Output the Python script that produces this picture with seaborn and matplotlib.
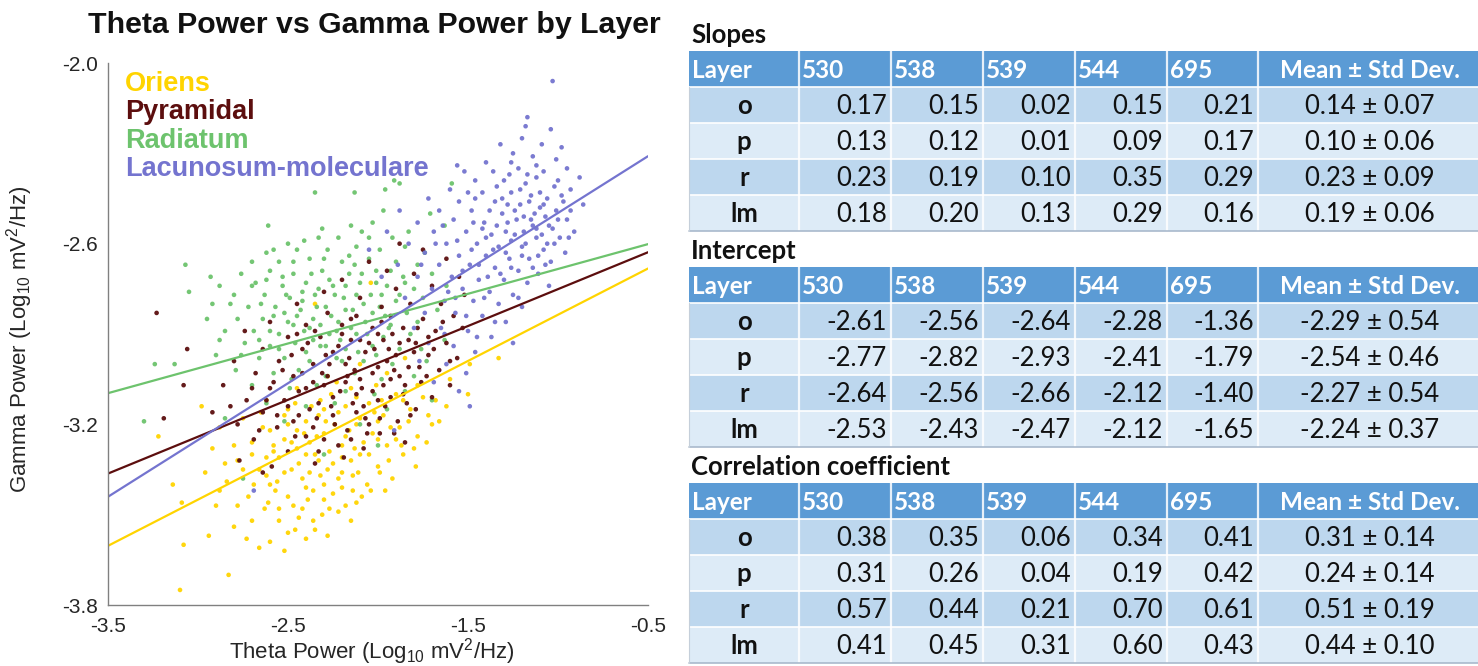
import matplotlib
matplotlib.use("Agg")
import matplotlib.pyplot as plt
from matplotlib.patches import Rectangle
import pandas as pd
import seaborn as sns

# ---------------- scatter: log10 theta power vs log10 gamma power ----------------
oriens_pts = [
    (-1.33, -2.98), (-1.49, -3.00), (-1.50, -3.10), (-1.66, -3.19), (-1.73, -3.26), (-1.79, -3.34),
    (-2.04, -2.73), (-2.35, -2.80), (-1.85, -2.98), (-2.10, -3.00), (-1.95, -3.03), (-1.60, -3.05),
    (-2.28, -3.04), (-1.78, -3.07), (-2.45, -3.08), (-2.15, -3.08), (-1.90, -3.10), (-1.68, -3.12),
    (-2.62, -3.12), (-2.32, -3.12), (-2.05, -3.13), (-1.82, -3.15), (-2.98, -3.14), (-2.50, -3.15),
    (-2.22, -3.16), (-1.97, -3.17), (-1.72, -3.17), (-2.75, -3.18), (-2.40, -3.19), (-2.12, -3.20),
    (-1.88, -3.21), (-3.22, -3.24), (-2.88, -3.21), (-2.60, -3.22), (-2.30, -3.23), (-2.03, -3.23),
    (-1.78, -3.24), (-2.70, -3.26), (-2.48, -3.26), (-2.20, -3.27), (-1.95, -3.27), (-2.92, -3.28),
    (-2.58, -3.29), (-2.35, -3.30), (-2.10, -3.30), (-1.86, -3.30), (-2.78, -3.32), (-2.44, -3.33),
    (-2.25, -3.33), (-2.00, -3.34), (-2.66, -3.35), (-2.52, -3.36), (-2.32, -3.37), (-2.14, -3.37),
    (-1.92, -3.38), (-3.14, -3.40), (-2.84, -3.39), (-2.60, -3.40), (-2.40, -3.41), (-2.20, -3.41),
    (-2.04, -3.42), (-2.72, -3.44), (-2.50, -3.44), (-2.30, -3.45), (-2.12, -3.46), (-3.09, -3.46),
    (-2.90, -3.47), (-2.63, -3.48), (-2.42, -3.48), (-2.22, -3.49), (-2.55, -3.52), (-2.36, -3.52),
    (-2.15, -3.52), (-2.80, -3.54), (-2.46, -3.55), (-2.35, -3.55), (-2.28, -3.57), (-2.73, -3.58),
    (-2.60, -3.59), (-2.66, -3.61), (-2.94, -3.57), (-3.08, -3.60), (-2.83, -3.70), (-3.10, -3.75),
    (-2.52, -3.62), (-2.38, -3.26), (-2.45, -3.22), (-2.18, -3.24), (-2.28, -3.35), (-2.55, -3.31),
    (-2.08, -3.26), (-2.33, -3.17), (-2.62, -3.37), (-2.00, -3.19), (-2.42, -3.38), (-2.25, -3.43),
    (-2.15, -3.32), (-1.90, -3.25), (-2.50, -3.20), (-2.70, -3.30), (-2.36, -3.42), (-2.18, -3.14),
    (-1.98, -3.12), (-2.65, -3.16), (-2.85, -3.33), (-2.47, -3.47), (-2.27, -3.29), (-2.06, -3.40),
    (-1.83, -3.19), (-2.57, -3.42), (-2.11, -3.36), (-2.24, -3.20), (-2.40, -3.30), (-2.13, -3.28),
    (-1.94, -3.32), (-2.30, -3.40), (-2.52, -3.25), (-2.01, -3.07), (-2.20, -3.36), (-2.46, -3.13),
    (-1.75, -3.11), (-2.41, -3.23), (-2.29, -3.19), (-2.16, -3.22), (-2.05, -3.30), (-2.33, -3.32),
    (-2.48, -3.35), (-2.22, -3.38), (-2.39, -3.45), (-2.56, -3.39), (-2.09, -3.44), (-1.99, -3.36),
    (-2.27, -3.48), (-2.44, -3.51), (-2.61, -3.46), (-2.69, -3.40), (-2.75, -3.35), (-2.58, -3.27),
    (-2.64, -3.21), (-2.37, -3.14), (-2.26, -3.10), (-2.12, -3.11), (-2.02, -3.16), (-1.93, -3.21),
    (-1.87, -3.27), (-2.18, -3.47), (-2.31, -3.50), (-2.50, -3.56), (-2.40, -3.58), (-2.70, -3.52),
    (-2.55, -3.48), (-2.34, -3.24), (-2.20, -3.31), (-2.45, -3.28), (-2.10, -3.18), (-1.96, -3.42),
    (-2.00, -3.25), (-2.30, -3.15), (-2.52, -3.17), (-2.80, -3.27), (-2.88, -3.42), (-2.96, -3.36),
    (-2.78, -3.47), (-1.80, -3.28), (-1.70, -3.20), (-1.86, -3.12), (-1.62, -3.14), (-2.23, -3.06),
    (-2.38, -3.36), (-2.14, -3.42), (-2.62, -3.31),
]

radiatum_pts = [
    (-1.91, -2.39), (-1.88, -2.40), (-2.35, -2.43), (-2.13, -2.43), (-1.96, -2.42), (-1.59, -2.40),
    (-2.61, -2.54), (-1.97, -2.49), (-2.03, -2.53), (-2.41, -2.59), (-2.15, -2.54), (-2.09, -2.56),
    (-2.31, -2.55), (-1.83, -2.56), (-1.71, -2.50), (-1.63, -2.54), (-2.22, -2.58), (-1.92, -2.58),
    (-2.50, -2.60), (-2.62, -2.63), (-2.45, -2.62), (-2.28, -2.62), (-2.12, -2.61), (-1.99, -2.62),
    (-1.85, -2.61), (-1.74, -2.63), (-3.07, -2.67), (-2.70, -2.66), (-2.55, -2.66), (-2.38, -2.65),
    (-2.20, -2.66), (-2.05, -2.65), (-1.90, -2.66), (-1.78, -2.67), (-2.93, -2.71), (-2.76, -2.70),
    (-2.60, -2.69), (-2.47, -2.70), (-2.31, -2.69), (-2.16, -2.70), (-2.01, -2.69), (-1.86, -2.71),
    (-1.70, -2.70), (-2.88, -2.74), (-2.68, -2.73), (-2.53, -2.74), (-2.40, -2.73), (-2.25, -2.74),
    (-2.10, -2.73), (-1.95, -2.74), (-1.80, -2.75), (-1.62, -2.74), (-3.05, -2.76), (-2.80, -2.77),
    (-2.63, -2.77), (-2.49, -2.78), (-2.35, -2.77), (-2.19, -2.78), (-2.04, -2.77), (-1.90, -2.79),
    (-1.75, -2.78), (-2.72, -2.81), (-2.57, -2.81), (-2.43, -2.82), (-2.29, -2.81), (-2.14, -2.82),
    (-1.99, -2.81), (-1.84, -2.83), (-1.67, -2.82), (-2.95, -2.85), (-2.78, -2.85), (-2.64, -2.85),
    (-2.50, -2.86), (-2.36, -2.85), (-2.22, -2.86), (-2.07, -2.86), (-1.93, -2.87), (-1.78, -2.86),
    (-2.85, -2.89), (-2.69, -2.89), (-2.55, -2.90), (-2.41, -2.89), (-2.27, -2.90), (-2.12, -2.90),
    (-1.97, -2.91), (-1.82, -2.90), (-1.63, -2.92), (-2.74, -2.93), (-2.60, -2.94), (-2.46, -2.93),
    (-2.32, -2.94), (-2.18, -2.95), (-2.03, -2.94), (-1.88, -2.95), (-3.24, -3.00), (-3.13, -3.00),
    (-2.90, -2.97), (-2.66, -2.98), (-2.52, -2.98), (-2.38, -2.99), (-2.23, -2.98), (-2.08, -2.99),
    (-1.92, -3.00), (-1.73, -2.99), (-2.79, -3.02), (-2.58, -3.03), (-2.44, -3.02), (-2.29, -3.04),
    (-2.13, -3.03), (-1.98, -3.05), (-1.80, -3.04), (-2.70, -3.07), (-2.49, -3.08), (-2.34, -3.07),
    (-2.18, -3.09), (-2.02, -3.10), (-1.85, -3.09), (-2.62, -3.13), (-2.40, -3.14), (-2.24, -3.13),
    (-1.95, -3.15), (-1.70, -3.12), (-3.30, -3.19), (-2.85, -3.18), (-2.52, -3.19), (-2.10, -3.20),
    (-2.30, -3.30), (-2.00, -3.27), (-2.75, -3.38), (-2.33, -2.75), (-2.18, -2.74), (-2.26, -2.84),
    (-2.42, -2.79), (-2.08, -2.80), (-2.47, -2.87), (-2.15, -2.88), (-1.96, -2.84), (-2.36, -2.92),
    (-2.58, -2.84), (-2.01, -2.73), (-2.21, -2.92), (-2.53, -2.71), (-1.88, -2.77), (-2.11, -2.96),
    (-2.30, -2.65), (-2.65, -2.80), (-1.93, -2.69), (-2.37, -2.70), (-2.24, -2.77), (-2.45, -2.84),
    (-2.12, -2.77), (-2.32, -2.87), (-2.51, -2.77), (-2.03, -2.83), (-2.18, -2.82), (-2.40, -2.96),
    (-2.27, -2.72), (-2.60, -2.89), (-2.13, -2.67), (-1.98, -2.77), (-2.47, -2.66), (-2.70, -2.74),
    (-2.55, -2.95), (-2.20, -2.99), (-1.94, -2.88), (-2.34, -2.81), (-2.06, -2.90), (-2.42, -2.76),
    (-2.29, -2.94), (-2.66, -2.92), (-2.82, -2.80), (-1.85, -2.73), (-2.16, -2.64), (-2.52, -2.83),
    (-2.76, -2.97), (-2.09, -2.70), (-2.38, -2.88), (-2.62, -2.72), (-2.23, -2.89), (-2.01, -2.97),
    (-2.48, -3.05), (-2.88, -2.92), (-1.76, -2.95), (-2.58, -2.62), (-2.33, -2.58), (-2.05, -2.58),
    (-2.92, -2.80),
]

pyramidal_pts = [
    (-1.88, -2.60), (-1.75, -2.62), (-2.05, -2.66), (-1.62, -2.65), (-1.95, -2.69), (-1.80, -2.70),
    (-1.55, -2.71), (-2.20, -2.72), (-1.70, -2.74), (-1.90, -2.75), (-1.52, -2.77), (-2.30, -2.76),
    (-3.23, -2.83), (-2.10, -2.78), (-2.45, -2.80), (-1.98, -2.81), (-1.82, -2.80), (-1.65, -2.80),
    (-2.28, -2.83), (-2.12, -2.84), (-1.93, -2.84), (-1.75, -2.85), (-1.58, -2.84), (-2.60, -2.86),
    (-2.40, -2.87), (-2.20, -2.87), (-2.03, -2.88), (-1.86, -2.88), (-1.68, -2.89), (-1.53, -2.88),
    (-2.74, -2.89), (-2.50, -2.91), (-2.32, -2.91), (-2.15, -2.92), (-1.97, -2.92), (-1.79, -2.93),
    (-1.62, -2.93), (-3.06, -2.95), (-2.64, -2.95), (-2.42, -2.95), (-2.25, -2.96), (-2.07, -2.96),
    (-1.90, -2.97), (-1.72, -2.97), (-1.56, -2.98), (-2.80, -2.99), (-2.55, -2.99), (-2.36, -3.00),
    (-2.18, -3.00), (-2.00, -3.01), (-1.83, -3.01), (-1.66, -3.02), (-2.68, -3.03), (-2.47, -3.04),
    (-2.28, -3.04), (-2.10, -3.05), (-1.93, -3.05), (-1.76, -3.06), (-1.60, -3.07), (-3.08, -3.07),
    (-2.86, -3.07), (-2.60, -3.08), (-2.40, -3.08), (-2.21, -3.09), (-2.03, -3.09), (-1.86, -3.10),
    (-1.70, -3.11), (-2.73, -3.12), (-2.52, -3.12), (-2.33, -3.13), (-2.14, -3.13), (-1.96, -3.14),
    (-1.79, -3.15), (-2.92, -3.16), (-2.64, -3.16), (-2.44, -3.17), (-2.25, -3.17), (-2.07, -3.18),
    (-1.89, -3.19), (-3.19, -3.18), (-2.78, -3.20), (-2.56, -3.21), (-2.36, -3.21), (-2.17, -3.22),
    (-1.99, -3.23), (-1.91, -3.23), (-2.69, -3.25), (-2.46, -3.24), (-2.30, -3.25), (-2.15, -3.25),
    (-1.85, -3.26), (-2.77, -3.32), (-2.59, -3.34), (-2.64, -3.36), (-2.35, -3.33), (-2.33, -3.29),
    (-2.19, -3.31), (-2.50, -3.29), (-2.08, -3.28), (-2.05, -2.93), (-1.95, -2.99), (-2.13, -3.02),
    (-2.22, -2.94), (-1.88, -3.04), (-2.30, -3.07), (-2.00, -3.12), (-1.80, -2.96), (-2.38, -3.15),
    (-2.12, -3.16), (-1.92, -2.90), (-2.25, -3.11), (-2.48, -2.97), (-1.72, -2.91), (-2.16, -2.98),
    (-2.42, -3.03), (-1.84, -3.13), (-2.05, -3.20), (-2.58, -3.06), (-1.98, -2.86), (-2.27, -3.00),
    (-2.09, -3.08), (-2.35, -2.89), (-2.02, -2.95), (-2.17, -3.04), (-1.91, -3.02), (-2.29, -2.97),
    (-2.44, -3.09), (-2.08, -3.14), (-1.85, -3.07), (-2.34, -3.18), (-2.20, -2.90), (-1.99, -3.18),
    (-1.77, -3.01), (-2.53, -3.02), (-2.39, -2.93), (-2.12, -3.10), (-1.94, -2.95), (-2.26, -3.14),
    (-2.47, -3.19), (-1.88, -2.93), (-1.69, -2.95), (-2.62, -3.12), (-2.03, -3.03), (-2.31, -3.03),
    (-2.15, -2.85), (-1.82, -3.17), (-2.56, -3.17), (-2.40, -3.24), (-2.22, -3.27), (-1.73, -3.04),
    (-1.64, -2.86), (-2.70, -3.08), (-2.82, -3.14), (-2.66, -3.22), (-1.97, -3.07), (-2.10, -2.92),
    (-2.36, -3.06), (-1.78, -2.88), (-1.60, -2.99), (-2.24, -3.20), (-2.50, -3.14), (-2.06, -3.23),
    (-1.83, -2.92), (-1.93, -3.11), (-2.45, -2.90), (-2.18, -3.06), (-2.00, -2.90),
]

lm_pts = [
    (-1.03, -2.06), (-1.17, -2.18), (-1.18, -2.21), (-1.04, -2.22), (-1.20, -2.25), (-1.09, -2.27),
    (-0.98, -2.28), (-1.32, -2.27), (-1.25, -2.30), (-1.14, -2.31), (-1.01, -2.32), (-1.40, -2.33),
    (-1.56, -2.34), (-1.52, -2.36), (-1.36, -2.36), (-1.22, -2.35), (-1.08, -2.36), (-0.95, -2.35),
    (-0.88, -2.38), (-1.46, -2.39), (-1.30, -2.39), (-1.18, -2.40), (-1.12, -2.38), (-1.02, -2.41),
    (-0.93, -2.42), (-1.60, -2.42), (-1.42, -2.43), (-1.26, -2.43), (-1.15, -2.44), (-1.06, -2.45),
    (-0.97, -2.46), (-0.86, -2.47), (-1.72, -2.45), (-1.55, -2.46), (-1.35, -2.46), (-1.21, -2.47),
    (-1.10, -2.48), (-1.01, -2.49), (-1.88, -2.49), (-1.66, -2.49), (-1.48, -2.49), (-1.31, -2.50),
    (-1.19, -2.51), (-1.07, -2.51), (-0.95, -2.52), (-1.78, -2.53), (-1.58, -2.52), (-1.41, -2.53),
    (-1.28, -2.53), (-1.14, -2.54), (-1.03, -2.55), (-0.91, -2.56), (-1.95, -2.56), (-1.69, -2.56),
    (-1.51, -2.56), (-1.37, -2.57), (-1.24, -2.57), (-1.12, -2.58), (-0.99, -2.58), (-1.83, -2.60),
    (-1.62, -2.60), (-1.45, -2.60), (-1.33, -2.61), (-1.20, -2.61), (-1.08, -2.62), (-0.96, -2.63),
    (-1.74, -2.63), (-1.55, -2.64), (-1.40, -2.64), (-1.27, -2.65), (-1.16, -2.65), (-1.04, -2.66),
    (-1.89, -2.67), (-1.66, -2.67), (-1.49, -2.67), (-1.35, -2.68), (-1.22, -2.69), (-1.11, -2.70),
    (-1.78, -2.71), (-1.59, -2.71), (-1.44, -2.72), (-1.30, -2.72), (-1.17, -2.73), (-1.05, -2.74),
    (-1.70, -2.75), (-1.53, -2.75), (-1.38, -2.76), (-1.25, -2.77), (-1.85, -2.78), (-1.63, -2.79),
    (-1.47, -2.79), (-1.33, -2.80), (-1.20, -2.81), (-1.74, -2.83), (-1.57, -2.83), (-1.42, -2.84),
    (-1.29, -2.86), (-1.80, -2.88), (-1.65, -2.88), (-1.50, -2.89), (-1.37, -2.91), (-1.72, -2.93),
    (-1.58, -2.94), (-1.46, -2.96), (-1.77, -2.99), (-1.62, -3.00), (-1.51, -3.03), (-1.69, -3.06),
    (-1.55, -3.09), (-1.49, -3.14), (-1.25, -2.93), (-1.98, -2.71), (-2.05, -2.62), (-1.13, -2.50),
    (-1.19, -2.56), (-1.26, -2.59), (-1.09, -2.57), (-1.16, -2.46), (-1.23, -2.52), (-1.34, -2.54),
    (-1.29, -2.63), (-1.40, -2.58), (-1.00, -2.52), (-1.06, -2.60), (-1.21, -2.42), (-1.11, -2.64),
    (-1.32, -2.70), (-1.44, -2.67), (-1.38, -2.49), (-1.47, -2.53), (-0.93, -2.49), (-1.27, -2.37),
    (-1.12, -2.34), (-2.69, -3.42), (-1.91, -3.22), (-1.24, -2.49), (-1.15, -2.52), (-1.29, -2.56),
    (-1.18, -2.60), (-1.05, -2.54), (-1.36, -2.62), (-1.10, -2.43), (-1.31, -2.45), (-1.20, -2.64),
    (-1.42, -2.55), (-1.02, -2.60), (-1.14, -2.68), (-1.26, -2.68), (-1.48, -2.62), (-1.39, -2.71),
    (-1.08, -2.47), (-0.98, -2.44), (-1.17, -2.37), (-1.34, -2.41), (-1.53, -2.69), (-1.61, -2.76),
    (-1.46, -2.45), (-1.22, -2.78), (-1.56, -2.59), (-1.68, -2.60), (-1.07, -2.67), (-0.94, -2.58),
    (-1.28, -2.47), (-1.12, -2.55), (-1.41, -2.78), (-1.51, -2.84), (-1.63, -2.90), (-1.57, -2.78),
    (-1.35, -2.86), (-1.45, -2.91), (-1.00, -2.39), (-1.26, -2.33), (-1.50, -2.43), (-1.64, -2.54),
    (-1.76, -2.67),
]

layer_names = ["Oriens", "Pyramidal", "Radiatum", "Lacunosum-moleculare"]
layer_colors = ["#FFD400", "#5C0E0E", "#6DC36D", "#7474CF"]

# straight-line fit of gamma on theta for each layer
fit_slope = [0.307, 0.245, 0.165, 0.377]
fit_intercept = [-2.529, -2.506, -2.519, -2.121]

# ---------------- per-animal regression statistics ----------------
animals = ["530", "538", "539", "544", "695"]
layer_codes = ["o", "p", "r", "lm"]

slopes = [
    [0.17, 0.15, 0.02, 0.15, 0.21],
    [0.13, 0.12, 0.01, 0.09, 0.17],
    [0.23, 0.19, 0.10, 0.35, 0.29],
    [0.18, 0.20, 0.13, 0.29, 0.16],
]
slopes_mean = [0.14, 0.10, 0.23, 0.19]
slopes_sd = [0.07, 0.06, 0.09, 0.06]

intercepts = [
    [-2.61, -2.56, -2.64, -2.28, -1.36],
    [-2.77, -2.82, -2.93, -2.41, -1.79],
    [-2.64, -2.56, -2.66, -2.12, -1.40],
    [-2.53, -2.43, -2.47, -2.12, -1.65],
]
intercepts_mean = [-2.29, -2.54, -2.27, -2.24]
intercepts_sd = [0.54, 0.46, 0.54, 0.37]

correlations = [
    [0.38, 0.35, 0.06, 0.34, 0.41],
    [0.31, 0.26, 0.04, 0.19, 0.42],
    [0.57, 0.44, 0.21, 0.70, 0.61],
    [0.41, 0.45, 0.31, 0.60, 0.43],
]
correlations_mean = [0.31, 0.24, 0.51, 0.44]
correlations_sd = [0.14, 0.14, 0.19, 0.10]

# ---------------- style ----------------
sns.set_style("white")
plt.rcParams["font.family"] = ["Liberation Sans", "DejaVu Sans"]
plt.rcParams["axes.unicode_minus"] = False
plt.rcParams["mathtext.fontset"] = "custom"
plt.rcParams["mathtext.rm"] = "Liberation Sans"
plt.rcParams["mathtext.it"] = "Liberation Sans:italic"
plt.rcParams["mathtext.bf"] = "Liberation Sans:bold"

W, H = 1478, 666
fig = plt.figure(figsize=(W / 100, H / 100), dpi=100)
ax = fig.add_axes([108 / W, 61 / H, 540 / W, 542 / H])

palette = dict(zip(layer_names, layer_colors))
pts_by_layer = dict(zip(layer_names, [oriens_pts, pyramidal_pts, radiatum_pts, lm_pts]))
draw_order = ["Oriens", "Radiatum", "Pyramidal", "Lacunosum-moleculare"]
scatter_df = pd.concat(
    [pd.DataFrame(pts_by_layer[n], columns=["theta", "gamma"]).assign(layer=n) for n in draw_order],
    ignore_index=True,
)
sns.scatterplot(data=scatter_df, x="theta", y="gamma", hue="layer", palette=palette,
                s=11, linewidth=0, alpha=0.95, legend=False, ax=ax)

x_lo, x_hi = -3.5, -0.5
fit_rows = []
for name, b, a in zip(layer_names, fit_slope, fit_intercept):
    for xv in (x_lo, x_hi):
        fit_rows.append({"theta": xv, "gamma": a + b * xv, "layer": name})
fit_df = pd.DataFrame(fit_rows)
sns.lineplot(data=fit_df, x="theta", y="gamma", hue="layer", palette=palette,
             estimator=None, linewidth=1.6, legend=False, ax=ax)

ax.set_xlim(x_lo, x_hi)
ax.set_ylim(-3.8, -2.0)
ax.set_xticks([-3.5, -2.5, -1.5, -0.5])
ax.set_xticks([-3.0, -2.0, -1.0], minor=True)
ax.set_yticks([-3.8, -3.2, -2.6, -2.0])
ax.set_yticks([-3.5, -2.9, -2.3], minor=True)
ax.set_xticklabels(["-3.5", "-2.5", "-1.5", "-0.5"])
ax.set_yticklabels(["-3.8", "-3.2", "-2.6", "-2.0"])
ax.tick_params(which="both", direction="in", length=5, width=1, color="#808080",
               labelsize=15, labelcolor="#262626")
ax.tick_params(axis="x", which="both", pad=9)
ax.tick_params(axis="y", which="both", pad=7)
for side in ("top", "right"):
    ax.spines[side].set_visible(False)
for side in ("left", "bottom"):
    ax.spines[side].set_color("#808080")
    ax.spines[side].set_linewidth(1)

ax.set_xlabel("Theta Power (Log$_{10}$ mV$^2$/Hz)", fontsize=16, color="#262626")
ax.xaxis.set_label_coords(0.489, -0.057)
ax.set_ylabel("Gamma Power (Log$_{10}$ mV$^2$/Hz)", fontsize=16, color="#262626")
ax.yaxis.set_label_coords(-0.135, 0.49)

ax.text(0.494, 1.07, "Theta Power vs Gamma Power by Layer", transform=ax.transAxes,
        ha="center", va="center", fontsize=21.8, fontweight="bold", color="#111111")

legend_y = [0.948, 0.897, 0.843, 0.792]
for name, col, yv in zip(layer_names, layer_colors, legend_y):
    ax.text(0.0315, yv, name, transform=ax.transAxes, color=col, fontsize=19.5,
            fontweight="bold", va="baseline", ha="left")

# ---------------- statistics tables ----------------
tab = fig.add_axes([680 / W, 0, (W - 680) / W, 1])
tab.set_xlim(680, W)
tab.set_ylim(H, 0)
tab.axis("off")

col_edges = [689, 799, 891, 983, 1075, 1167, 1258, W]
header_h, row_h = 36, 36
header_col = "#5B9BD5"
row_cols = ["#BDD7EE", "#DDEBF7"]
tfont = ["Lato", "DejaVu Sans"]
fs_head, fs_body = 17.5, 18.5


def draw_table(top, title, values, means, sds):
    tab.text(691, top - 16, title, ha="left", va="center", fontsize=fs_body,
             fontweight="bold", family=tfont, color="#111111")
    tab.add_patch(Rectangle((col_edges[0], top), col_edges[-1] - col_edges[0], header_h,
                            facecolor=header_col, edgecolor="none"))
    heads = ["Layer"] + animals
    for j, h in enumerate(heads):
        tab.text(col_edges[j] + 3, top + header_h / 2 + 1, h, ha="left", va="center",
                 fontsize=fs_head, fontweight="bold", color="white", family=tfont)
    tab.text((col_edges[-2] + col_edges[-1]) / 2 + 2, top + header_h / 2 + 1, "Mean ± Std Dev.",
             ha="center", va="center", fontsize=fs_head, fontweight="bold", color="white",
             family=tfont)
    for i, code in enumerate(layer_codes):
        y0 = top + header_h + i * row_h
        tab.add_patch(Rectangle((col_edges[0], y0), col_edges[-1] - col_edges[0], row_h,
                                facecolor=row_cols[i % 2], edgecolor="none"))
        yc = y0 + row_h / 2 + 1
        tab.text((col_edges[0] + col_edges[1]) / 2, yc, code, ha="center", va="center",
                 fontsize=fs_body, fontweight="bold", color="#111111", family=tfont)
        for j, v in enumerate(values[i]):
            tab.text(col_edges[j + 2] - 4, yc, f"{v:.2f}", ha="right", va="center",
                     fontsize=fs_body, color="#111111", family=tfont)
        tab.text((col_edges[-2] + col_edges[-1]) / 2 + 2, yc, f"{means[i]:.2f} ± {sds[i]:.2f}",
                 ha="center", va="center", fontsize=fs_body, color="#111111", family=tfont)
        if i > 0:
            tab.plot([col_edges[0], col_edges[-1]], [y0, y0], color="white", lw=1.2)
    bottom = top + header_h + len(layer_codes) * row_h
    tab.plot([col_edges[0], col_edges[-1]], [top + header_h, top + header_h], color="white", lw=1.2)
    for xe in col_edges[1:-1]:
        tab.plot([xe, xe], [top, bottom], color="white", lw=1.6, alpha=0.85)
    tab.plot([col_edges[0], col_edges[-1]], [bottom, bottom], color="#A9B9CC", lw=1.2)
    tab.plot([col_edges[0], col_edges[0]], [top + header_h, bottom], color="#C5CFDA", lw=0.8)


draw_table(51, "Slopes", slopes, slopes_mean, slopes_sd)
draw_table(267, "Intercept", intercepts, intercepts_mean, intercepts_sd)
draw_table(483, "Correlation coefficient", correlations, correlations_mean, correlations_sd)

fig.savefig("out.png", dpi=100)
